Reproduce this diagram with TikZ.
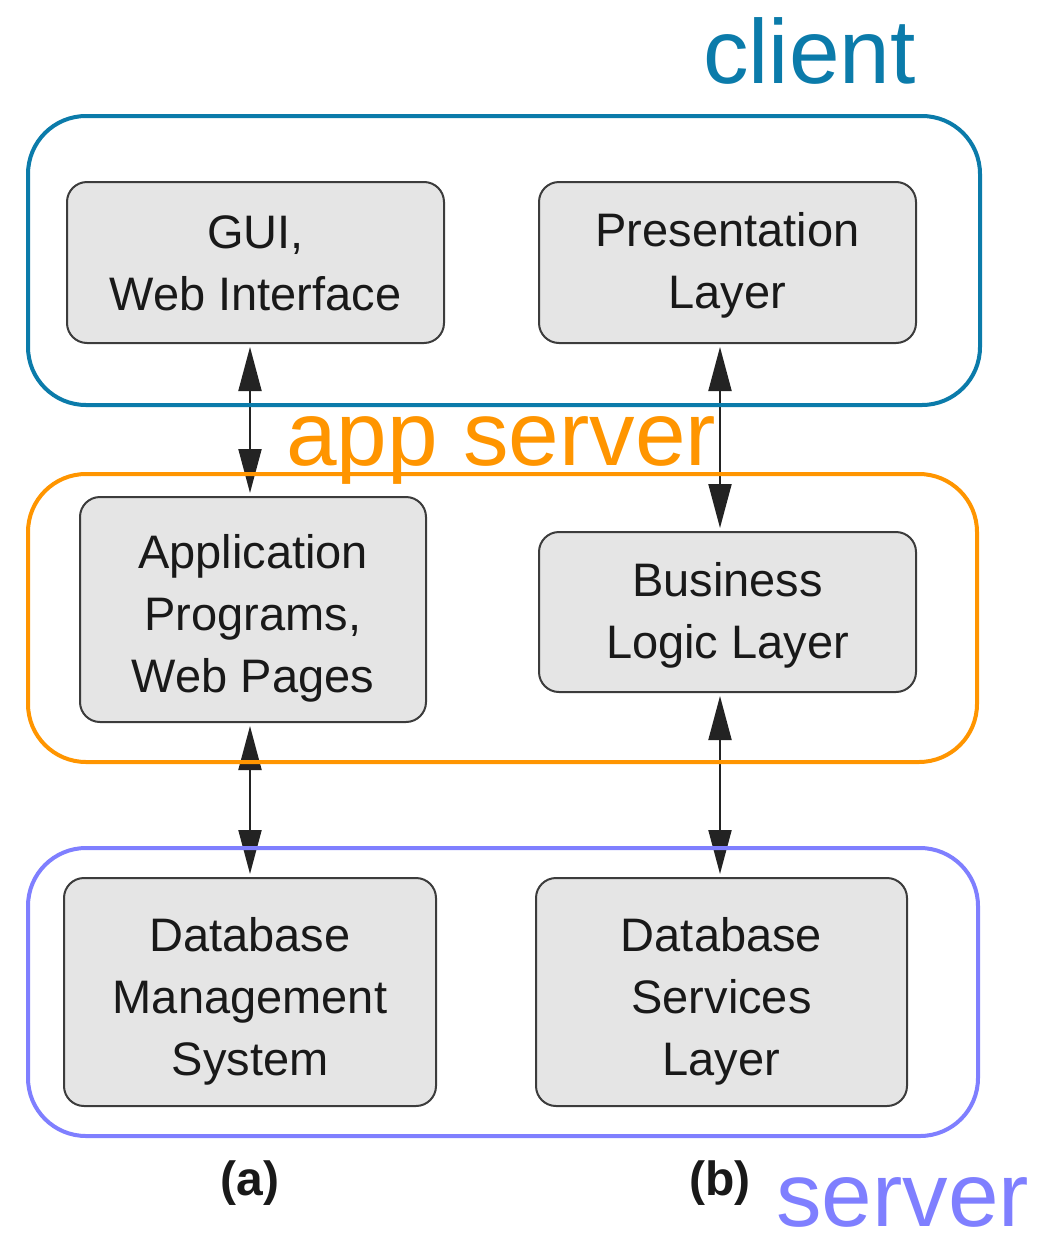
\documentclass[tikz,border=0pt]{standalone}
\usepackage{fontspec}
\setmainfont{Liberation Sans}
\usetikzlibrary{arrows.meta}
\definecolor{clientc}{RGB}{11,123,170}
\definecolor{appc}{RGB}{255,149,0}
\definecolor{serverc}{RGB}{127,127,255}
\definecolor{boxfill}{RGB}{229,229,229}
\definecolor{boxline}{RGB}{60,60,60}
\definecolor{arrc}{RGB}{35,35,35}
\begin{document}
\begin{tikzpicture}[x=1pt,y=-1pt,
  layerbox/.style={draw=boxline, fill=boxfill, line width=2pt, rounded corners=20pt, inner sep=0pt},
  boxtext/.style={inner sep=0pt, align=center, font=\fontsize{47}{62}\selectfont, text=black!90},
  tierbox/.style={draw, line width=4pt, rounded corners=58pt, inner sep=0pt},
  tierlabel/.style={anchor=base west, inner sep=0pt, font=\fontsize{91}{100}\selectfont},
  arr/.style={line width=2pt, draw=arrc, {Triangle[length=44pt,width=23pt]}-{Triangle[length=44pt,width=23pt]}, shorten <=3pt, shorten >=3pt},
  sublabel/.style={anchor=base, inner sep=0pt, font=\fontsize{48}{50}\selectfont\bfseries, text=black!90}
]
\useasboundingbox (0,0) rectangle (1053,1237);

% inner boxes
\node[layerbox, minimum width=377pt, minimum height=161pt] (gui)  at (255.5,262.5) {};
\node[layerbox, minimum width=377pt, minimum height=161pt] (pres) at (727.5,262.5) {};
\node[layerbox, minimum width=346pt, minimum height=225pt] (apps) at (253,609.5) {};
\node[layerbox, minimum width=377pt, minimum height=160pt] (bus)  at (727.5,612) {};
\node[layerbox, minimum width=372pt, minimum height=228pt] (dbms) at (250,992) {};
\node[layerbox, minimum width=371pt, minimum height=228pt] (dbs)  at (721.5,992) {};

% box texts
\node[boxtext] (guit)  at ([yshift=-1pt]gui.center)  {GUI,\\Web Interface};
\node[boxtext] (prest) at ([yshift=-3pt]pres.center) {Presentation\\Layer};
\node[boxtext] (appst) at ([yshift=-9pt]apps.center) {Application\\Programs,\\Web Pages};
\node[boxtext] (bust)  at ([yshift=-3pt]bus.center)  {Business\\Logic Layer};
\node[boxtext] (dbmst) at ([yshift=-9pt]dbms.center) {Database\\Management\\System};
\node[boxtext] (dbst)  at ([yshift=-9pt]dbs.center)  {Database\\Services\\Layer};

% arrows
\coordinate (la) at (250,0);
\coordinate (ra) at (720,0);
\draw[arr] (gui.south -| la) -- (apps.north -| la);
\draw[arr] (apps.south -| la) -- (dbms.north -| la);
\draw[arr] (pres.south -| ra) -- (bus.north -| ra);
\draw[arr] (bus.south -| ra) -- (dbs.north -| ra);

% tier boxes
\node[tierbox, draw=clientc, minimum width=952pt, minimum height=289pt] (clientbox) at (504,260.5) {};
\node[tierbox, draw=appc, minimum width=949pt, minimum height=288pt] (appbox) at (502.5,618) {};
\node[tierbox, draw=serverc, minimum width=950pt, minimum height=288pt] (serverbox) at (503,992) {};

% tier labels
\node[tierlabel, text=clientc] (clientlbl) at (703,83) {client};
\node[tierlabel, text=appc] (applbl) at (286,465) {app server};
\node[tierlabel, text=serverc] (serverlbl) at (776,1226) {server};

% sub labels
\node[sublabel] (suba) at (250,1195) {(a)};
\node[sublabel] (subb) at (720,1195) {(b)};
\end{tikzpicture}
\end{document}
